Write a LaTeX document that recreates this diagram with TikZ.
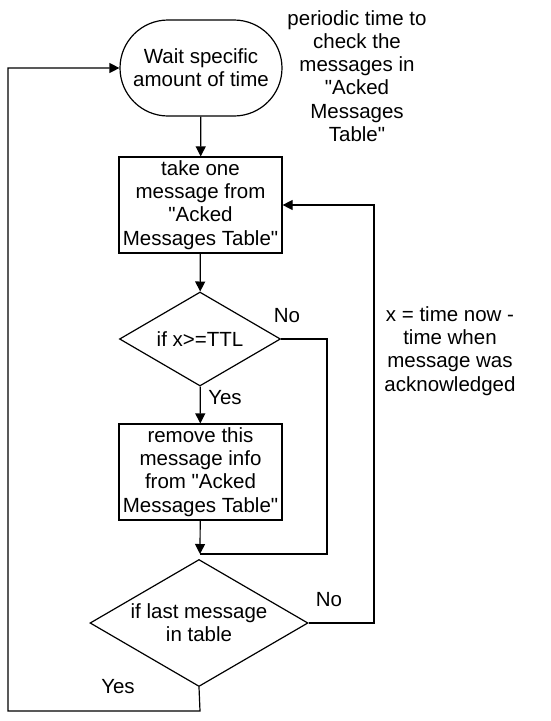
\documentclass[tikz,border=0pt]{standalone}
\usepackage{fontspec}
\setmainfont{Liberation Sans}
\usetikzlibrary{shapes.geometric,arrows.meta}

\newcommand{\qm}{\textquotedbl}

\tikzset{
  every node/.style={font=\fontsize{20.5}{23.2}\selectfont, align=center},
  stadium/.style={draw, line width=1.2pt, rounded corners=48pt, minimum width=162pt, minimum height=96pt, inner sep=0pt},
  procbox/.style={draw, line width=1.2pt, minimum width=163pt, minimum height=96pt, inner sep=0pt},
  decide/.style={draw, diamond, aspect=1.72, line width=1.2pt, inner sep=0pt},
  flow/.style={line width=1.2pt, -{Triangle[length=10pt,width=10pt]}},
  plain/.style={line width=1.2pt}
}

\begin{document}
\begin{tikzpicture}[x=1pt, y=-1pt]
\useasboundingbox (0,0) rectangle (550,721);
% flow steps
\node[stadium] (wait) at (201,68) {Wait specific\\amount of time};
\node[procbox] (take) at (200.5,205) {take one\\message from\\\qm Acked\\Messages Table\qm};
\node[decide, minimum width=161pt, minimum height=94pt] (ttl) at (200,339) {if x>=TTL};
\node[procbox] (remove) at (200.5,472) {remove this\\message info\\from \qm Acked\\Messages Table\qm};
\node[decide, minimum width=218pt, minimum height=127pt] (last) at (199,623) {if last message\\in table};
% notes
\node (notePeriod) at (357,76) {periodic time to\\check the\\messages in\\\qm Acked\\Messages\\Table\qm};
\node (noteX) at (450,351) {x = time now -\\time when\\message was\\acknowledged};
% corner points
\coordinate (merge) at (200,554);
\coordinate (ttlR) at (327,554);
\coordinate (backR) at (374,623);
\coordinate (loopB) at (200,711);
\coordinate (loopL) at (8,711);
% connectors
\draw[flow] (wait) -- (take);
\draw[flow] (take) -- (ttl);
\draw[flow] (ttl) -- (remove);
\draw[flow] (remove) -- (merge);
\draw[plain] (ttl.east) -| (ttlR) -- (merge);
\draw[flow] (last.east) -- (backR) |- (take.east);
\draw[flow] (last.south) -- (loopB) -- (loopL) |- (wait.west);
% branch labels
\node (noTTL) at (287,316) {No};
\node (yesTTL) at (225,398) {Yes};
\node (noLast) at (329,600) {No};
\node (yesLast) at (118,687) {Yes};
\end{tikzpicture}
\end{document}
